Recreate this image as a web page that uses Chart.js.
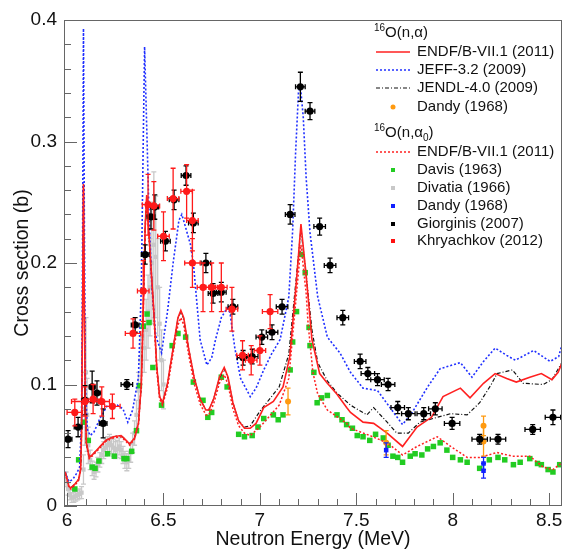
<!DOCTYPE html>
<html>
<head>
<meta charset="utf-8">
<script src="https://cdn.jsdelivr.net/npm/chart.js@4.4.0/dist/chart.umd.min.js"></script>
<style>
  body { margin: 0; background: #fff; }
  #wrap { width: 567px; height: 551px; }
</style>
</head>
<body>
<div id="wrap"><canvas id="xsChart" width="567" height="551"></canvas></div>
<script>
// axis ticks
const xTickValues = [6, 6.5, 7, 7.5, 8, 8.5];
const yTickValues = [0, 0.1, 0.2, 0.3, 0.4];

// ENDF/B-VII.1 (n,alpha)
const endfAlphaE = [5.99, 6.01, 6.02, 6.04, 6.06, 6.07, 6.075, 6.08, 6.085, 6.09, 6.095, 6.10, 6.115, 6.13, 6.16, 6.20, 6.24, 6.28, 6.30, 6.325, 6.35, 6.37, 6.385, 6.395, 6.405, 6.413, 6.43, 6.45, 6.465, 6.48, 6.495, 6.52, 6.55, 6.575, 6.59, 6.605, 6.63, 6.66, 6.69, 6.72, 6.735, 6.76, 6.79, 6.815, 6.835, 6.86, 6.89, 6.92, 6.95, 6.98, 7.02, 7.07, 7.12, 7.155, 7.19, 7.213, 7.24, 7.27, 7.31, 7.35, 7.40, 7.45, 7.47, 7.535, 7.59, 7.66, 7.74, 7.815, 7.89, 7.95, 8.04, 8.09, 8.16, 8.22, 8.28, 8.33, 8.40, 8.46, 8.515, 8.547, 8.57];
const endfAlphaXS = [0.028, 0.016, 0.015, 0.018, 0.022, 0.030, 0.060, 0.150, 0.265, 0.160, 0.080, 0.052, 0.040, 0.042, 0.047, 0.054, 0.057, 0.058, 0.055, 0.051, 0.056, 0.068, 0.100, 0.160, 0.230, 0.256, 0.210, 0.160, 0.115, 0.090, 0.085, 0.100, 0.130, 0.155, 0.161, 0.155, 0.130, 0.105, 0.088, 0.079, 0.079, 0.088, 0.106, 0.114, 0.106, 0.085, 0.070, 0.064, 0.064, 0.068, 0.081, 0.086, 0.098, 0.123, 0.186, 0.232, 0.190, 0.137, 0.109, 0.101, 0.092, 0.081, 0.077, 0.069, 0.068, 0.060, 0.049, 0.065, 0.073, 0.090, 0.097, 0.089, 0.101, 0.109, 0.105, 0.102, 0.106, 0.109, 0.104, 0.110, 0.119];

// JEFF-3.2 (n,alpha)
const jeffE = [5.99, 6.01, 6.03, 6.05, 6.065, 6.075, 6.08, 6.085, 6.09, 6.095, 6.105, 6.12, 6.14, 6.17, 6.21, 6.26, 6.29, 6.315, 6.34, 6.37, 6.385, 6.395, 6.402, 6.41, 6.425, 6.44, 6.46, 6.49, 6.52, 6.55, 6.58, 6.595, 6.61, 6.64, 6.655, 6.69, 6.725, 6.75, 6.77, 6.80, 6.83, 6.845, 6.87, 6.90, 6.95, 6.98, 7.02, 7.06, 7.105, 7.15, 7.17, 7.185, 7.20, 7.21, 7.225, 7.24, 7.26, 7.30, 7.35, 7.415, 7.47, 7.535, 7.61, 7.675, 7.74, 7.79, 7.87, 7.935, 8.04, 8.10, 8.16, 8.22, 8.28, 8.325, 8.42, 8.505, 8.55, 8.57];
const jeffXS = [0.028, 0.020, 0.022, 0.027, 0.032, 0.070, 0.200, 0.393, 0.220, 0.100, 0.063, 0.058, 0.061, 0.072, 0.083, 0.083, 0.080, 0.069, 0.079, 0.106, 0.180, 0.300, 0.378, 0.330, 0.240, 0.180, 0.140, 0.126, 0.159, 0.200, 0.235, 0.240, 0.232, 0.215, 0.200, 0.137, 0.116, 0.122, 0.137, 0.155, 0.163, 0.159, 0.130, 0.105, 0.090, 0.097, 0.112, 0.125, 0.137, 0.172, 0.227, 0.290, 0.340, 0.346, 0.320, 0.270, 0.225, 0.172, 0.139, 0.126, 0.110, 0.097, 0.095, 0.081, 0.067, 0.077, 0.098, 0.113, 0.118, 0.106, 0.119, 0.130, 0.124, 0.120, 0.128, 0.119, 0.123, 0.135];

// JENDL-4.0 (n,alpha)
const jendlE = [5.99, 6.01, 6.02, 6.04, 6.06, 6.07, 6.075, 6.08, 6.085, 6.09, 6.095, 6.10, 6.115, 6.13, 6.16, 6.20, 6.24, 6.28, 6.30, 6.325, 6.35, 6.37, 6.385, 6.395, 6.405, 6.413, 6.43, 6.45, 6.465, 6.48, 6.495, 6.52, 6.55, 6.575, 6.59, 6.605, 6.63, 6.66, 6.69, 6.72, 6.735, 6.76, 6.79, 6.815, 6.835, 6.86, 6.89, 6.92, 6.95, 7.00, 7.05, 7.10, 7.15, 7.19, 7.213, 7.24, 7.27, 7.30, 7.35, 7.40, 7.47, 7.555, 7.59, 7.66, 7.71, 7.77, 7.83, 7.92, 7.99, 8.075, 8.14, 8.20, 8.23, 8.31, 8.365, 8.47, 8.515, 8.57];
const jendlXS = [0.028, 0.016, 0.015, 0.018, 0.022, 0.030, 0.060, 0.150, 0.265, 0.160, 0.080, 0.052, 0.040, 0.042, 0.047, 0.054, 0.057, 0.058, 0.055, 0.051, 0.056, 0.068, 0.100, 0.160, 0.230, 0.255, 0.210, 0.160, 0.115, 0.090, 0.085, 0.100, 0.130, 0.154, 0.160, 0.154, 0.130, 0.105, 0.088, 0.079, 0.079, 0.088, 0.105, 0.113, 0.105, 0.085, 0.070, 0.065, 0.066, 0.078, 0.088, 0.098, 0.125, 0.190, 0.228, 0.190, 0.145, 0.118, 0.103, 0.093, 0.083, 0.075, 0.081, 0.069, 0.060, 0.060, 0.069, 0.073, 0.076, 0.075, 0.085, 0.100, 0.109, 0.112, 0.101, 0.100, 0.104, 0.119];

// ENDF/B-VII.1 (n,alpha0)
const endfAlpha0E = [5.99, 6.01, 6.02, 6.04, 6.06, 6.07, 6.075, 6.08, 6.085, 6.09, 6.095, 6.10, 6.115, 6.13, 6.16, 6.20, 6.24, 6.28, 6.30, 6.325, 6.35, 6.37, 6.385, 6.395, 6.405, 6.413, 6.43, 6.45, 6.465, 6.48, 6.495, 6.52, 6.55, 6.575, 6.59, 6.605, 6.63, 6.66, 6.69, 6.72, 6.735, 6.76, 6.79, 6.815, 6.835, 6.86, 6.89, 6.92, 6.95, 7.00, 7.05, 7.10, 7.15, 7.19, 7.213, 7.24, 7.25, 7.275, 7.30, 7.35, 7.45, 7.47, 7.57, 7.66, 7.74, 7.815, 7.92, 7.99, 8.075, 8.14, 8.23, 8.31, 8.40, 8.47, 8.52, 8.57];
const endfAlpha0XS = [0.027, 0.015, 0.014, 0.017, 0.021, 0.029, 0.058, 0.148, 0.262, 0.158, 0.078, 0.051, 0.039, 0.041, 0.046, 0.053, 0.056, 0.057, 0.054, 0.050, 0.055, 0.067, 0.099, 0.158, 0.228, 0.253, 0.207, 0.157, 0.112, 0.088, 0.083, 0.097, 0.126, 0.149, 0.155, 0.149, 0.125, 0.100, 0.084, 0.075, 0.075, 0.084, 0.101, 0.108, 0.100, 0.080, 0.066, 0.060, 0.058, 0.065, 0.074, 0.083, 0.105, 0.175, 0.215, 0.175, 0.150, 0.110, 0.092, 0.079, 0.068, 0.064, 0.058, 0.052, 0.042, 0.049, 0.057, 0.049, 0.040, 0.040, 0.044, 0.041, 0.041, 0.032, 0.030, 0.036];

// Dandy (1968) (n,alpha)
const dandyAlphaE = [7.146, 7.655, 8.16, 8.16];
const dandyAlphaXS = [0.086, 0.052, 0.066, 0.053];
const dandyAlphaErr = [0.011, 0.010, 0.008, 0.012];

// Davis (1963) (n,alpha0)
const davisE = [6.04, 6.06, 6.085, 6.11, 6.13, 6.145, 6.165, 6.21, 6.245, 6.295, 6.31, 6.335, 6.36, 6.375, 6.395, 6.415, 6.425, 6.445, 6.49, 6.545, 6.575, 6.615, 6.655, 6.705, 6.73, 6.75, 6.80, 6.83, 6.89, 6.92, 6.96, 6.99, 7.02, 7.07, 7.095, 7.12, 7.157, 7.17, 7.19, 7.215, 7.235, 7.255, 7.26, 7.28, 7.297, 7.32, 7.35, 7.40, 7.426, 7.45, 7.48, 7.505, 7.535, 7.57, 7.60, 7.64, 7.665, 7.69, 7.715, 7.74, 7.78, 7.805, 7.84, 7.87, 7.90, 7.935, 7.97, 8.00, 8.04, 8.075, 8.14, 8.19, 8.235, 8.27, 8.315, 8.35, 8.40, 8.44, 8.46, 8.495, 8.52, 8.555];
const davisXS = [0.014, 0.038, 0.069, 0.054, 0.032, 0.031, 0.037, 0.043, 0.041, 0.039, 0.039, 0.045, 0.062, 0.099, 0.148, 0.158, 0.151, 0.114, 0.083, 0.132, 0.142, 0.139, 0.102, 0.087, 0.073, 0.077, 0.106, 0.098, 0.059, 0.057, 0.058, 0.065, 0.072, 0.075, 0.071, 0.075, 0.112, 0.135, 0.160, 0.207, 0.192, 0.147, 0.132, 0.110, 0.085, 0.089, 0.091, 0.075, 0.071, 0.067, 0.064, 0.058, 0.057, 0.054, 0.059, 0.056, 0.050, 0.041, 0.040, 0.036, 0.041, 0.043, 0.042, 0.047, 0.049, 0.052, 0.046, 0.040, 0.038, 0.036, 0.031, 0.038, 0.040, 0.038, 0.034, 0.036, 0.039, 0.035, 0.034, 0.030, 0.028, 0.034];

// Divatia (1966) (n,alpha0)
const divatiaE = [5.995, 6.005, 6.015, 6.025, 6.035, 6.045, 6.055, 6.065, 6.075, 6.085, 6.092, 6.098, 6.104, 6.11, 6.12, 6.13, 6.14, 6.15, 6.16, 6.17, 6.18, 6.19, 6.20, 6.21, 6.22, 6.23, 6.24, 6.25, 6.26, 6.27, 6.28, 6.29, 6.30, 6.31, 6.32, 6.33, 6.34, 6.35, 6.36, 6.37, 6.38, 6.39, 6.40, 6.41, 6.42, 6.43, 6.44, 6.45, 6.46, 6.47, 6.48, 6.49, 6.50];
const divatiaXS = [0.022, 0.014, 0.009, 0.007, 0.007, 0.008, 0.009, 0.010, 0.011, 0.030, 0.080, 0.110, 0.075, 0.050, 0.038, 0.031, 0.028, 0.030, 0.034, 0.038, 0.042, 0.046, 0.048, 0.050, 0.052, 0.050, 0.048, 0.046, 0.047, 0.049, 0.046, 0.042, 0.038, 0.036, 0.038, 0.044, 0.052, 0.060, 0.075, 0.095, 0.120, 0.140, 0.130, 0.145, 0.160, 0.180, 0.200, 0.215, 0.205, 0.180, 0.150, 0.120, 0.100];
const divatiaErr = [0.006, 0.005, 0.004, 0.004, 0.004, 0.004, 0.004, 0.004, 0.005, 0.012, 0.030, 0.045, 0.030, 0.015, 0.008, 0.006, 0.006, 0.006, 0.006, 0.006, 0.007, 0.007, 0.007, 0.007, 0.007, 0.007, 0.007, 0.007, 0.007, 0.007, 0.007, 0.007, 0.007, 0.007, 0.007, 0.008, 0.008, 0.010, 0.012, 0.015, 0.020, 0.020, 0.020, 0.025, 0.030, 0.040, 0.050, 0.060, 0.050, 0.040, 0.030, 0.025, 0.020];

// Dandy (1968) (n,alpha0)
const dandyAlpha0E = [7.655, 8.16, 8.16];
const dandyAlpha0XS = [0.046, 0.035, 0.029];
const dandyAlpha0Err = [0.006, 0.005, 0.006];

// Giorginis (2007)
const giorginisE = [6.005, 6.057, 6.093, 6.13, 6.155, 6.187, 6.31, 6.353, 6.405, 6.435, 6.455, 6.51, 6.555, 6.617, 6.655, 6.72, 6.757, 6.80, 6.86, 6.913, 6.96, 7.01, 7.063, 7.115, 7.157, 7.21, 7.26, 7.31, 7.364, 7.43, 7.52, 7.56, 7.61, 7.665, 7.715, 7.77, 7.85, 7.91, 7.997, 8.14, 8.235, 8.415, 8.52];
const giorginisXS = [0.055, 0.065, 0.087, 0.098, 0.093, 0.068, 0.100, 0.149, 0.207, 0.238, 0.246, 0.218, 0.252, 0.272, 0.233, 0.200, 0.175, 0.176, 0.164, 0.122, 0.123, 0.139, 0.143, 0.164, 0.240, 0.345, 0.325, 0.230, 0.198, 0.155, 0.119, 0.109, 0.104, 0.100, 0.081, 0.076, 0.076, 0.080, 0.068, 0.055, 0.055, 0.063, 0.073];
const giorginisDE = [0.02, 0.02, 0.015, 0.015, 0.02, 0.02, 0.03, 0.02, 0.02, 0.02, 0.02, 0.025, 0.025, 0.025, 0.025, 0.025, 0.025, 0.025, 0.025, 0.03, 0.03, 0.03, 0.03, 0.03, 0.025, 0.025, 0.025, 0.03, 0.03, 0.03, 0.03, 0.035, 0.035, 0.035, 0.035, 0.035, 0.035, 0.035, 0.04, 0.04, 0.04, 0.04, 0.04];
const giorginisDXS = [0.007, 0.008, 0.012, 0.013, 0.010, 0.012, 0.004, 0.006, 0.008, 0.010, 0.010, 0.008, 0.008, 0.008, 0.008, 0.008, 0.008, 0.008, 0.006, 0.006, 0.006, 0.006, 0.006, 0.006, 0.008, 0.012, 0.007, 0.007, 0.006, 0.006, 0.006, 0.005, 0.005, 0.005, 0.005, 0.005, 0.005, 0.005, 0.005, 0.004, 0.004, 0.004, 0.006];

// Khryachkov (2012)
const khryachkovE = [6.04, 6.093, 6.135, 6.18, 6.235, 6.342, 6.395, 6.42, 6.45, 6.50, 6.55, 6.62, 6.65, 6.65, 6.705, 6.75, 6.80, 6.855, 6.91, 6.955, 7.00, 7.053];
const khryachkovXS = [0.077, 0.086, 0.088, 0.086, 0.082, 0.142, 0.177, 0.248, 0.247, 0.222, 0.253, 0.259, 0.235, 0.200, 0.180, 0.180, 0.180, 0.162, 0.124, 0.120, 0.128, 0.160];
const khryachkovDE = [0.04, 0.07, 0.04, 0.04, 0.04, 0.04, 0.03, 0.03, 0.03, 0.03, 0.03, 0.03, 0.03, 0.04, 0.03, 0.03, 0.03, 0.03, 0.03, 0.03, 0.03, 0.04];
const khryachkovDXS = [0.011, 0.012, 0.012, 0.012, 0.010, 0.012, 0.025, 0.025, 0.020, 0.020, 0.025, 0.022, 0.025, 0.020, 0.020, 0.020, 0.020, 0.018, 0.012, 0.012, 0.012, 0.014];

const FONT = "'Liberation Sans', Arial, Helvetica, sans-serif";
const pts = (xs, ys) => xs.map((x, i) => ({ x: x, y: ys[i] }));

function lineSet(label, xs, ys, color, dash, width, order) {
    return {
        label: label, data: pts(xs, ys), showLine: true, borderColor: color,
        borderWidth: width, borderDash: dash, pointRadius: 0, fill: false, tension: 0, order: order
    };
}
function pointSet(label, xs, ys, color, style, radius, order, errX, errY) {
    return {
        label: label, data: pts(xs, ys), showLine: false, backgroundColor: color, borderColor: color,
        borderWidth: 0, pointStyle: style, pointRadius: radius, order: order, errX: errX, errY: errY
    };
}

// error bars drawn under each point dataset
const errorBars = {
    id: 'errorBars',
    beforeDatasetDraw(chart, args) {
        const ds = chart.data.datasets[args.index];
        if (!ds.errX && !ds.errY) return;
        const xs = chart.scales.x, ys = chart.scales.y, ctx = chart.ctx, a = chart.chartArea;
        ctx.save();
        ctx.beginPath();
        ctx.rect(a.left, a.top, a.right - a.left, a.bottom - a.top);
        ctx.clip();
        ctx.strokeStyle = ds.borderColor;
        ctx.lineWidth = 1.3;
        const cap = 2.5;
        ds.data.forEach((p, i) => {
            const px = xs.getPixelForValue(p.x), py = ys.getPixelForValue(p.y);
            ctx.beginPath();
            if (ds.errX) {
                const x0 = xs.getPixelForValue(p.x - ds.errX[i]), x1 = xs.getPixelForValue(p.x + ds.errX[i]);
                ctx.moveTo(x0, py); ctx.lineTo(x1, py);
                ctx.moveTo(x0, py - cap); ctx.lineTo(x0, py + cap);
                ctx.moveTo(x1, py - cap); ctx.lineTo(x1, py + cap);
            }
            if (ds.errY) {
                const y0 = ys.getPixelForValue(p.y - ds.errY[i]), y1 = ys.getPixelForValue(p.y + ds.errY[i]);
                ctx.moveTo(px, y0); ctx.lineTo(px, y1);
                ctx.moveTo(px - cap, y0); ctx.lineTo(px + cap, y0);
                ctx.moveTo(px - cap, y1); ctx.lineTo(px + cap, y1);
            }
            ctx.stroke();
        });
        ctx.restore();
    }
};

// ROOT-like frame with inward ticks
const frameTicks = {
    id: 'frameTicks',
    afterDatasetsDraw(chart) {
        const xs = chart.scales.x, ys = chart.scales.y, ctx = chart.ctx, a = chart.chartArea;
        ctx.save();
        ctx.strokeStyle = '#666';
        ctx.lineWidth = 1;
        ctx.strokeRect(a.left + 0.5, a.top + 0.5, a.right - a.left - 1, a.bottom - a.top - 1);
        ctx.beginPath();
        for (let i = 0; i <= 25; i++) {
            const v = 6 + i * 0.1;
            const px = Math.round(xs.getPixelForValue(v)) + 0.5;
            const len = (i % 5 === 0) ? 13 : 7;
            ctx.moveTo(px, a.bottom); ctx.lineTo(px, a.bottom - len);
        }
        for (let i = 0; i <= 20; i++) {
            const v = i * 0.02;
            const py = Math.round(ys.getPixelForValue(v)) + 0.5;
            const len = (i % 5 === 0) ? 13 : 7;
            ctx.moveTo(a.left, py); ctx.lineTo(a.left + len, py);
        }
        ctx.stroke();
        ctx.restore();
    }
};

// legend in the upper right
const legendRows = [
    { head: ['16', 'O(n,\u03b1)'], y: 33 },
    { text: 'ENDF/B-VII.1 (2011)', y: 52, line: '#ff2020', dash: [], w: 1.5 },
    { text: 'JEFF-3.2 (2009)', y: 70, line: '#2030ff', dash: [2, 2], w: 1.5 },
    { text: 'JENDL-4.0 (2009)', y: 88, line: '#111', dash: [4, 2, 1, 2], w: 1.2 },
    { text: 'Dandy (1968)', y: 107, dot: '#ff9a10' },
    { head: ['16', 'O(n,\u03b1', '0', ')'], y: 133 },
    { text: 'ENDF/B-VII.1 (2011)', y: 152, line: '#ff2020', dash: [2, 2], w: 1.5 },
    { text: 'Davis (1963)', y: 170, box: '#22cc22' },
    { text: 'Divatia (1966)', y: 188, box: '#c8c8c8' },
    { text: 'Dandy (1968)', y: 206, box: '#1020ff' },
    { text: 'Giorginis (2007)', y: 224, box: '#000' },
    { text: 'Khryachkov (2012)', y: 241, box: '#ff1010' }
];
const legendBox = {
    id: 'legendBox',
    afterDraw(chart) {
        const ctx = chart.ctx;
        ctx.save();
        ctx.textBaseline = 'middle';
        ctx.fillStyle = '#111';
        legendRows.forEach(r => {
            if (r.head) {
                let x = 374;
                ctx.font = '10px ' + FONT;
                ctx.fillText(r.head[0], x, r.y - 5);
                x += ctx.measureText(r.head[0]).width;
                ctx.font = '15px ' + FONT;
                ctx.fillText(r.head[1], x, r.y);
                x += ctx.measureText(r.head[1]).width;
                if (r.head[2]) {
                    ctx.font = '10px ' + FONT;
                    ctx.fillText(r.head[2], x, r.y + 5);
                    x += ctx.measureText(r.head[2]).width;
                    ctx.font = '15px ' + FONT;
                    ctx.fillText(r.head[3], x, r.y);
                }
                return;
            }
            if (r.line) {
                ctx.strokeStyle = r.line;
                ctx.lineWidth = r.w;
                ctx.setLineDash(r.dash);
                ctx.beginPath();
                ctx.moveTo(376, r.y); ctx.lineTo(410, r.y);
                ctx.stroke();
                ctx.setLineDash([]);
            } else if (r.dot) {
                ctx.fillStyle = r.dot;
                ctx.beginPath();
                ctx.arc(393, r.y, 2.5, 0, Math.PI * 2);
                ctx.fill();
            } else if (r.box) {
                ctx.fillStyle = r.box;
                ctx.fillRect(391, r.y - 2, 4, 4);
            }
            ctx.fillStyle = '#111';
            ctx.font = '15px ' + FONT;
            ctx.fillText(r.text, 417, r.y);
        });
        ctx.restore();
    }
};

const datasets = [
    pointSet('Khryachkov (2012)', khryachkovE, khryachkovXS, '#ff1a1a', 'circle', 3.6, 1, khryachkovDE, khryachkovDXS),
    pointSet('Giorginis (2007)', giorginisE, giorginisXS, '#000000', 'circle', 3.6, 2, giorginisDE, giorginisDXS),
    pointSet('Dandy (1968) a0', dandyAlpha0E, dandyAlpha0XS, '#1020ff', 'rect', 3.2, 3, null, dandyAlpha0Err),
    pointSet('Dandy (1968)', dandyAlphaE, dandyAlphaXS, '#ff9a10', 'circle', 3, 4, null, dandyAlphaErr),
    lineSet('ENDF/B-VII.1 (2011)', endfAlphaE, endfAlphaXS, '#ff2020', [], 1.6, 5),
    lineSet('JEFF-3.2 (2009)', jeffE, jeffXS, '#2030ff', [2, 2], 1.6, 6),
    lineSet('JENDL-4.0 (2009)', jendlE, jendlXS, '#111111', [4, 2, 1, 2], 1.2, 7),
    lineSet('ENDF/B-VII.1 (2011) a0', endfAlpha0E, endfAlpha0XS, '#ff2020', [2, 2], 1.5, 8),
    pointSet('Davis (1963)', davisE, davisXS, '#22cc22', 'rect', 3.9, 9, null, null),
    pointSet('Divatia (1966)', divatiaE, divatiaXS, '#c8c8c8', 'rect', 3.0, 10, null, divatiaErr)
];

new Chart(document.getElementById('xsChart'), {
    type: 'scatter',
    data: { datasets: datasets },
    options: {
        responsive: false,
        animation: false,
        devicePixelRatio: 1,
        layout: { padding: { left: 0, right: 5, top: 20, bottom: 0 } },
        plugins: { legend: { display: false }, tooltip: { enabled: false } },
        scales: {
            x: {
                type: 'linear', min: 5.984, max: 8.567,
                afterBuildTicks: s => { s.ticks = xTickValues.map(v => ({ value: v })); },
                afterFit: s => { s.height = 45; },
                grid: { display: false, drawTicks: false },
                border: { display: false },
                ticks: { padding: 3, color: '#111', font: { family: FONT, size: 19 }, callback: v => String(v) },
                title: { display: true, text: 'Neutron Energy (MeV)', color: '#111', font: { family: FONT, size: 19.5 }, padding: { top: 0, bottom: 0 } }
            },
            y: {
                type: 'linear', min: 0, max: 0.4,
                afterBuildTicks: s => { s.ticks = yTickValues.map(v => ({ value: v })); },
                afterFit: s => { s.width = 64; },
                grid: { display: false, drawTicks: false },
                border: { display: false },
                ticks: { padding: 7, color: '#111', font: { family: FONT, size: 19 }, callback: v => String(v) },
                title: { display: true, text: 'Cross section (b)', color: '#111', font: { family: FONT, size: 19.5 }, padding: { top: 11, bottom: 0 } }
            }
        }
    },
    plugins: [errorBars, frameTicks, legendBox]
});
</script>
</body>
</html>
